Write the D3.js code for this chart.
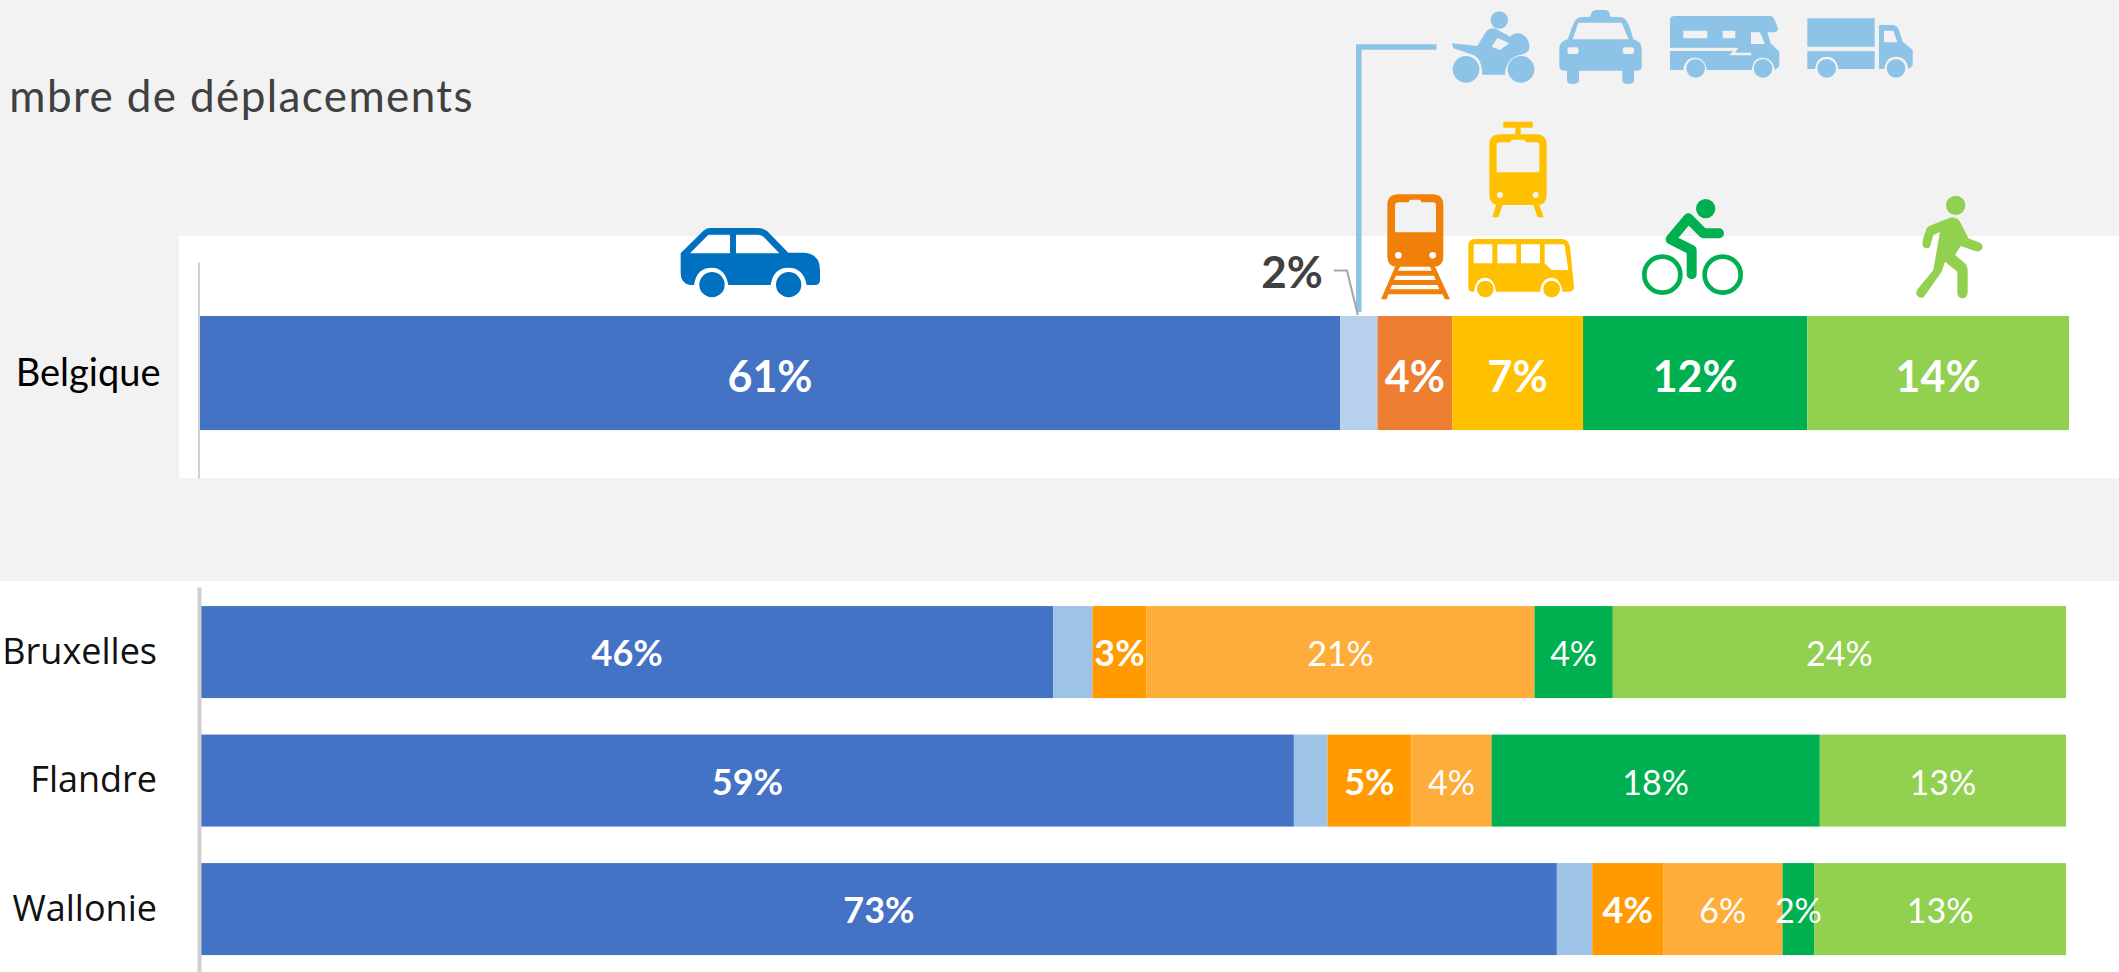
<!DOCTYPE html>
<html lang="fr">
<head>
    <meta charset="UTF-8">
    <title>Nombre de déplacements</title>
    <script src="https://d3js.org/d3.v7.min.js"></script>
    <style>
        body{
            margin: 0;
            background: #f2f2f2;
        }
        #svg_main{
            display: block;
            width: 2119px;
            height: 972px;
        }
        .title{
            font-family: Lato, sans-serif;
            font-size: 44px;
            letter-spacing: 1.4px;
            fill: #404040;
        }
        .axis path{
            stroke: #d0d0d0;
        }
        .axis line{
            display: none;
        }
        .axis-top text{
            font-family: Lato, sans-serif;
            font-size: 38px;
            fill: #000;
        }
        .axis-bottom text{
            font-family: "Open Sans", sans-serif;
            font-size: 36px;
            fill: #111;
        }
        .value{
            font-family: Lato, sans-serif;
            fill: #fff;
            text-anchor: middle;
        }
    </style>
</head>
<body>
<svg id="svg_main"></svg>
<script>
    const width = 2119;
    const height = 972;

    // parts modales, en %
    const modes = ['voiture', 'moto', 'train', 'bus', 'velo', 'marche'];
    const belgiqueRow = ['Belgique'];
    const regions = ['Bruxelles', 'Flandre', 'Wallonie'];
    const belgique = [61, 2, 4, 7, 12, 14];
    const bruxelles = [45.7, 2.1, 2.9, 20.8, 4.2, 24.3];
    const flandre = [58.6, 1.8, 4.5, 4.3, 17.6, 13.2];
    const wallonie = [72.7, 1.9, 3.8, 6.4, 1.7, 13.5];

    // etiquettes telles qu'affichees (la moto n'en a pas dans les barres)
    const belgiqueLabels = ['61%', '', '4%', '7%', '12%', '14%'];
    const bruxellesLabels = ['46%', '', '3%', '21%', '4%', '24%'];
    const flandreLabels = ['59%', '', '5%', '4%', '18%', '13%'];
    const wallonieLabels = ['73%', '', '4%', '6%', '2%', '13%'];
    const motoLabel = '2%';
    const titleText = 'mbre de déplacements';

    const topColors = ['#4472c4', '#b7d1ec', '#ed7d31', '#ffc000', '#00b050', '#92d050'];
    const bottomColors = ['#4472c4', '#9dc3e6', '#ff9a00', '#ffad3a', '#00b050', '#92d050'];
    const boldModes = ['voiture', 'train'];

    const svg = d3.select('#svg_main').attr('viewBox', [0, 0, width, height]);

    // panneaux blancs
    svg.append('rect').attr('x', 179).attr('y', 236).attr('width', width - 179).attr('height', 242).attr('fill', '#fff');
    svg.append('rect').attr('x', 0).attr('y', 581).attr('width', width).attr('height', height - 581).attr('fill', '#fff');

    svg.append('text').attr('class', 'title')
        .attr('x', 474).attr('y', 112)
        .attr('text-anchor', 'end')
        .text(titleText);

    function toRows(names, values) {
        return names.map((name, i) => {
            const row = {name: name};
            modes.forEach((m, j) => { row[m] = values[i][j]; });
            return row;
        });
    }

    const stack = d3.stack().keys(modes);

    // drawPanel : une barre par ligne, plus l'axe des categories
    function drawPanel(rows, labels, colors, xScale, yScale, axisX, axisWidth, axisClass, valueSize, valueDy) {
        const panel = svg.append('g');
        const stacked = stack(rows);
        panel.selectAll('.serie')
            .data(stacked)
            .enter()
            .append('g')
            .attr('class', 'serie')
            .attr('fill', (d, i) => colors[i])
            .selectAll('rect')
            .data(d => d)
            .enter()
            .append('rect')
            .attr('x', d => xScale(d[0]))
            .attr('y', d => yScale(d.data.name))
            .attr('width', d => xScale(d[1]) - xScale(d[0]))
            .attr('height', yScale.bandwidth());
        // les etiquettes passent au-dessus de toutes les barres (le 2% de Wallonie deborde)
        const isBold = d => boldModes.includes(d.mode) || axisClass === 'axis-top';
        panel.selectAll('.value')
            .data(stacked.flatMap((d, i) => d.map((p, r) => ({p: p, mode: d.key, label: labels[r][i]}))))
            .enter()
            .append('text')
            .attr('class', 'value')
            .attr('x', d => xScale((d.p[0] + d.p[1]) / 2))
            .attr('y', d => yScale(d.p.data.name) + yScale.bandwidth() / 2 + valueDy)
            .attr('font-size', d => isBold(d) ? valueSize : valueSize - 2)
            .attr('font-weight', d => isBold(d) ? 700 : 400)
            .text(d => d.label);
        const axis = panel.append('g')
            .attr('class', 'axis ' + axisClass)
            .attr('transform', `translate(${axisX},0)`)
            .call(d3.axisLeft(yScale).tickSize(0).tickSizeOuter(0).tickPadding(axisClass === 'axis-top' ? 38 : 42));
        axis.select('path').attr('stroke-width', axisWidth);
        axis.selectAll('text').attr('dy', '0.33em');
    }

    const xTop = d3.scaleLinear().domain([0, 100]).range([200, 2069]);
    const yTop = d3.scaleBand().domain(belgiqueRow).range([262, 478]).paddingInner(0).paddingOuter(0.447).align(0.53);
    const xBottom = d3.scaleLinear().domain([0, 100]).range([201, 2066]);
    const yBottom = d3.scaleBand().domain(regions).range([587, 972]).paddingInner(0.284).paddingOuter(0.14).align(0.53);

    drawPanel(toRows(belgiqueRow, [belgique]), [belgiqueLabels], topColors, xTop, yTop, 198.5, 2, 'axis-top', 43, 19);
    drawPanel(toRows(regions, [bruxelles, flandre, wallonie]), [bruxellesLabels, flandreLabels, wallonieLabels], bottomColors, xBottom, yBottom, 199, 4, 'axis-bottom', 36, 14);

    // renvoi vers les icones moto / taxi / camping-car / camion
    const motoX = xTop(belgique[0] + belgique[1] / 2);
    svg.append('path')
        .attr('d', d3.line()([[motoX, 312], [motoX, 47], [1436.5, 47]]))
        .attr('fill', 'none').attr('stroke', '#8dc3e6').attr('stroke-width', 5.5);
    svg.append('path')
        .attr('d', d3.line()([[1334, 270.5], [1347, 270.5], [motoX - 1, 315]]))
        .attr('fill', 'none').attr('stroke', '#a6a6a6').attr('stroke-width', 2);
    svg.append('text').attr('class', 'value')
        .attr('x', 1292).attr('y', 288)
        .attr('font-size', 44).attr('font-weight', 700)
        .style('fill', '#404040')
        .text(motoLabel);

    // icones : dessinees dans l'espace des crops (x3), ox/oy = coin du crop
    function icon(ox, oy, color, d, wheels) {
        const g = svg.append('g')
            .attr('transform', `translate(${ox},${oy}) scale(${1 / 3})`)
            .attr('fill', color);
        g.append('path').attr('d', d).attr('fill-rule', 'evenodd');
        g.selectAll('circle').data(wheels || []).enter().append('circle')
            .attr('cx', c => c[0]).attr('cy', c => c[1]).attr('r', c => c[2]);
        return g;
    }

    // voiture
    icon(660, 220, '#0070c0',
        'M62 100 L130 32 Q138 24 150 24 L290 24 Q310 24 322 34 L385 98 L430 98 Q480 100 480 150 L480 180 Q480 195 465 195 L440 195 Q430 143 385 143 Q340 143 332 195 L205 195 Q195 143 155 143 Q110 143 102 195 L90 195 Q62 190 62 160 Z' +
        'M90 100 L145 44 L210 44 L210 100 Z M228 44 L295 44 Q305 44 312 52 L358 100 L228 100 Z',
        [[156, 194, 38], [386, 194, 38]]);

    // moto
    icon(1440, 0, '#8cc3e6',
        'M36 130 L112 138 L135 100 Q145 82 165 85 L210 110 Q225 95 245 102 Q270 115 268 145 Q265 160 240 165 Q205 170 195 215 L195 224 L127 224 Q125 175 100 165 L40 145 Z' +
        'M172 114 L208 130 L180 150 L155 140 Z',
        [[178, 60, 26], [78, 208, 40], [243, 208, 40]]);

    // taxi
    icon(1440, 0, '#8cc3e6',
        'M452 50 Q452 30 470 30 L495 30 Q510 30 510 50 L545 52 Q560 55 570 85 L580 118 Q605 125 605 145 L605 200 Q605 212 590 212 L582 212 L582 240 Q582 252 565 252 Q547 252 547 240 L547 212 L417 212 L417 240 Q417 252 398 252 Q381 252 381 240 L381 212 L372 212 Q358 212 358 198 L358 145 Q358 125 383 118 L395 85 Q405 55 420 52 Z' +
        'M415 68 L545 68 L566 118 L398 118 Z M390 142 L408 142 Q416 142 416 152 Q416 162 408 162 L390 162 Q382 162 382 152 Q382 142 390 142 Z M556 142 L574 142 Q582 142 582 152 Q582 162 574 162 L556 162 Q548 162 548 152 Q548 142 556 142 Z');

    // camping-car
    icon(1440, 0, '#8cc3e6',
        'M690 60 Q690 48 705 48 L990 48 Q1000 48 1005 62 L1014 85 Q1014 97 1000 97 L982 97 L992 130 L1018 155 L1018 195 Q1015 205 1005 210 Q998 173 967 173 Q940 173 935 210 L800 210 Q795 173 765 173 Q735 173 730 210 L690 210 L690 153 L880 153 L868 166 L935 166 L932 158 L885 158 L895 143 L690 143 Z' +
        'M730 92 L802 92 L802 115 L730 115 Z M848 92 L886 92 L886 115 L848 115 Z M933 97 L960 97 L975 132 L933 132 Z',
        [[767, 205, 28], [969, 205, 28]]);

    // camion
    icon(1440, 0, '#8cc3e6',
        'M1102 55 L1304 55 L1304 140 L1102 140 Z M1102 154 L1304 154 L1304 207 L1195 207 Q1190 170 1160 170 Q1130 170 1125 207 L1102 207 Z' +
        'M1317 75 L1360 75 Q1375 78 1380 100 L1388 125 L1418 150 L1418 195 Q1415 203 1405 207 Q1400 170 1368 170 Q1338 170 1333 207 L1317 207 Z M1332 92 L1360 92 L1372 127 L1332 127 Z',
        [[1160, 205, 28], [1368, 205, 28]]);

    // train
    icon(1370, 115, '#f08008',
        'M52 270 Q52 238 85 238 L187 238 Q220 238 220 270 L220 425 Q220 455 190 455 L82 455 Q52 455 52 425 Z' +
        'M75 272 Q75 262 85 262 L115 262 L120 254 L150 254 L155 262 L190 262 Q198 262 198 272 L198 352 L75 352 Z' +
        'M75 421 A10 10 0 1 0 95 421 A10 10 0 1 0 75 421 Z M178 421 A10 10 0 1 0 198 421 A10 10 0 1 0 178 421 Z' +
        'M75 455 L90 455 L84 467 L185 467 L180 455 L195 455 L240 553 L224 553 L218 538 L55 538 L50 553 L33 553 Z' +
        'M78 482 L192 482 L197 495 L72 495 Z M66 510 L203 510 L208 523 L60 523 Z');

    // tram
    icon(1370, 115, '#ffc000',
        'M400 20 L488 20 L488 38 L452 38 L452 58 L498 58 Q530 58 530 90 L530 240 Q530 270 500 270 L388 270 Q358 270 358 240 L358 90 Q358 58 390 58 L436 58 L436 38 L400 38 Z' +
        'M380 92 Q380 82 390 82 L420 82 L426 74 L462 74 L468 82 L500 82 Q508 82 508 92 L508 172 L380 172 Z' +
        'M381 240 A9 9 0 1 0 399 240 A9 9 0 1 0 381 240 Z M488 240 A9 9 0 1 0 506 240 A9 9 0 1 0 488 240 Z' +
        'M378 270 L398 270 L385 307 L367 307 Z M490 270 L508 270 L521 307 L503 307 Z');

    // bus
    icon(1370, 115, '#ffc000',
        'M295 392 Q295 372 315 372 L575 372 Q595 372 600 395 L612 515 Q612 530 595 530 L578 530 Q570 488 545 488 Q515 488 510 530 L378 530 Q372 488 345 488 Q318 488 312 530 L305 530 Q295 528 295 515 Z' +
        'M311 388 L367 388 L367 445 L311 445 Z M382 388 L439 388 L439 445 L382 445 Z M453 388 L510 388 L510 445 L453 445 Z M524 388 L578 388 Q585 388 585 398 L595 465 L545 465 L524 445 Z',
        [[346, 522, 25], [545, 522, 25]]);

    // velo
    const cyclist = svg.append('g')
        .attr('transform', `translate(1370,115) scale(${1 / 3})`)
        .attr('fill', 'none').attr('stroke', '#00b050').attr('stroke-linecap', 'round').attr('stroke-linejoin', 'round');
    cyclist.append('path').attr('d', 'M1047 355 L1000 355 L955 310 L902 373 L965 405 L965 478').attr('stroke-width', 30);
    cyclist.selectAll('.roue').data([877, 1058]).enter().append('circle')
        .attr('class', 'roue').attr('cx', d => d).attr('cy', 479).attr('r', 54).attr('stroke-width', 14);
    cyclist.append('circle').attr('cx', 1007).attr('cy', 281).attr('r', 29).attr('fill', '#00b050').attr('stroke', 'none');

    // marcheur
    icon(1900, 190, '#92d050',
        'M95 105 L150 83 Q170 80 180 95 L205 145 L240 158 Q252 165 245 178 Q240 187 225 183 L182 168 L165 195 L195 220 Q203 228 203 240 L203 310 Q200 325 188 325 Q173 325 172 310 L172 245 L135 215 L125 245 L72 320 Q60 328 50 315 Q45 305 55 295 L100 240 L120 125 L100 135 L90 170 Q80 180 70 170 Q65 160 70 145 L80 115 Q85 108 95 105 Z',
        [[167, 46, 29]]);
</script>
</body>
</html>
